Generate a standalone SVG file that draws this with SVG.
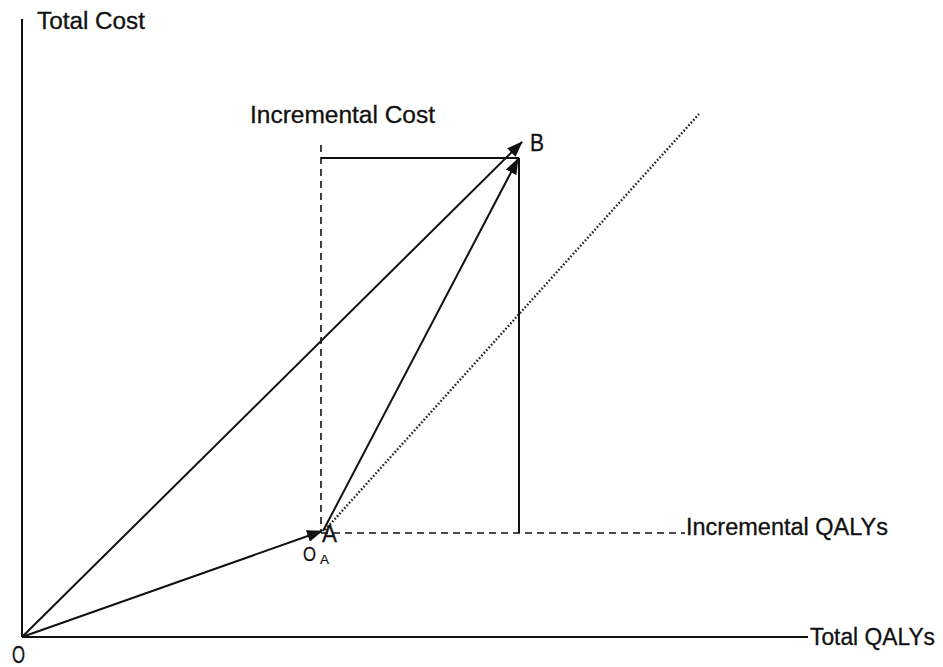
<svg xmlns="http://www.w3.org/2000/svg" width="943" height="667" viewBox="0 0 943 667">
<style>
.t{font-family:"Liberation Sans",Arial,sans-serif;font-size:23px;fill:#111;stroke:#111;stroke-width:0.3;}
.ax{stroke:#111;stroke-width:2;fill:none;}
.ln{stroke:#111;stroke-width:2;fill:none;}
.ds{stroke:#111;stroke-width:1.6;fill:none;stroke-dasharray:7,5;}
.dt{stroke:#222;stroke-width:2.4;fill:none;stroke-dasharray:1.6,2;}
</style>
<defs>
<marker id="ah" markerWidth="16" markerHeight="12" refX="15" refY="6" orient="auto" markerUnits="userSpaceOnUse">
<path d="M0,0 L16,6 L0,12 Z" fill="#111"/>
</marker>
</defs>
<g id="axes">
<line class="ax" x1="22" y1="19" x2="22" y2="637"/>
<line class="ax" x1="22" y1="637" x2="808" y2="637"/>
<text class="t" x="37" y="29" textLength="108" lengthAdjust="spacingAndGlyphs">Total Cost</text>
<text class="t" x="810" y="645" textLength="125" lengthAdjust="spacingAndGlyphs">Total QALYs</text>
<text class="t" x="12" y="663" textLength="13" lengthAdjust="spacingAndGlyphs">O</text>
</g>
<g id="rect">
<line class="ds" x1="321" y1="145" x2="321" y2="533"/>
<line class="ds" x1="321" y1="533" x2="685" y2="533"/>
<line class="ln" x1="321" y1="158" x2="519" y2="158"/>
<line class="ln" x1="519" y1="158" x2="519" y2="533"/>
<text class="t" x="250" y="123" textLength="185" lengthAdjust="spacingAndGlyphs">Incremental Cost</text>
<text class="t" x="686" y="535" textLength="202" lengthAdjust="spacingAndGlyphs">Incremental QALYs</text>
</g>
<g id="dotted">
<line class="dt" x1="325" y1="530" x2="699" y2="114"/>
</g>
<g id="connectors">
<line class="ln" x1="22" y1="637" x2="322" y2="531" marker-end="url(#ah)"/>
<line class="ln" x1="22" y1="637" x2="522" y2="142" marker-end="url(#ah)"/>
<line class="ln" x1="323" y1="531" x2="518" y2="159" marker-end="url(#ah)"/>
</g>
<g id="pointA">
<text class="t" x="322" y="542" textLength="15" lengthAdjust="spacingAndGlyphs">A</text>
<text class="t" x="303" y="561" style="font-size:21px" textLength="13" lengthAdjust="spacingAndGlyphs">O</text>
<text class="t" x="320" y="564" style="font-size:12px;stroke-width:0.2" textLength="9" lengthAdjust="spacingAndGlyphs">A</text>
</g>
<g id="pointB">
<text class="t" x="530" y="151" textLength="14" lengthAdjust="spacingAndGlyphs">B</text>
</g>
</svg>
